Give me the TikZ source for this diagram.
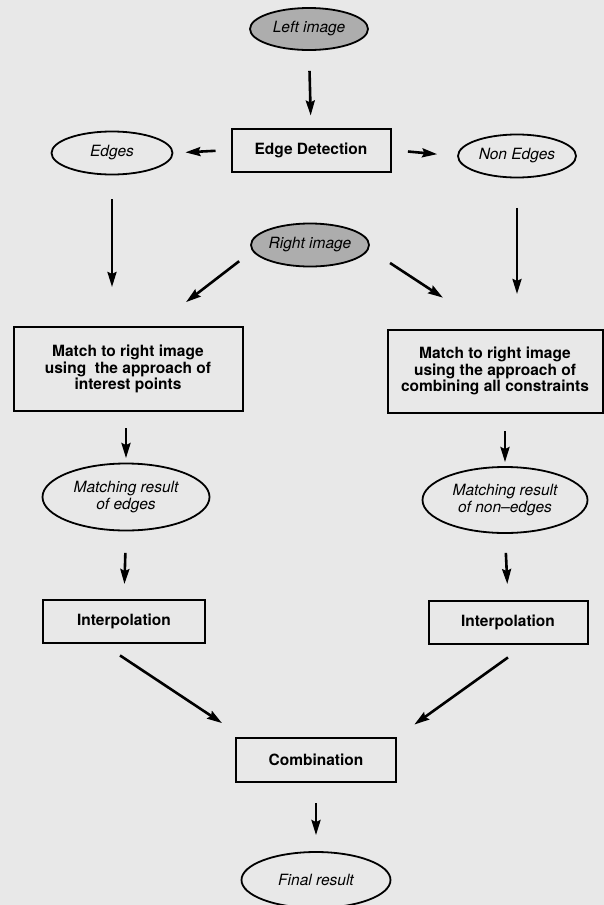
\documentclass[tikz,border=0pt]{standalone}
\usepackage{fontspec}
\setmainfont{TeX Gyre Heros}
\usepackage{xcolor}
\usepackage{tikz}
\usetikzlibrary{positioning,shapes.geometric,arrows.meta}
\definecolor{paperBG}{HTML}{E8E8E8}
\definecolor{imageFill}{HTML}{ADADAD}

\begin{document}
\begin{tikzpicture}[x=1pt, y=-1pt,
  stage/.style={draw, rectangle, line width=2pt, inner sep=0pt, align=center,
    font=\fontsize{15.5}{16.7}\selectfont\bfseries},
  result/.style={draw, ellipse, line width=1.8pt, inner sep=0pt, align=center,
    font=\fontsize{15.5}{16.7}\selectfont\itshape},
  source/.style={result, fill=imageFill},
  flow/.style={line width=2.6pt, -{Stealth[length=15pt,width=9pt,inset=2pt]}},
]
  \path[use as bounding box, fill=paperBG] (0,0) rectangle (604,905);

  \node[source, minimum width=118pt, minimum height=42pt] (lft) at (309,29) {Left image};
  \node[stage, minimum width=159pt, minimum height=43pt] (edet) at (311,150) {Edge Detection};
  \node[result, minimum width=121pt, minimum height=43pt] (edges) at (112,153) {Edges};
  \node[result, minimum width=118pt, minimum height=43pt] (nonedges) at (517,156) {Non Edges};
  \node[source, minimum width=118pt, minimum height=43pt] (rgt) at (310,245) {Right image};

  \node[stage, minimum width=229pt, minimum height=84pt] (matchL) at (128,369)
    {Match to right image\\using\ \ the approach of\\interest points};
  \node[stage, minimum width=215pt, minimum height=83pt] (matchR) at (495,371)
    {Match to right image\\using the approach of\\combining all constraints};

  \node[result, minimum width=167pt, minimum height=67pt] (resL) at (126,497) {Matching result\\of edges};
  \node[result, minimum width=165pt, minimum height=66pt] (resR) at (505,500) {Matching result\\of non--edges};

  \node[stage, minimum width=162pt, minimum height=43pt] (interpL) at (124,621) {Interpolation};
  \node[stage, minimum width=159pt, minimum height=43pt] (interpR) at (508,622) {Interpolation};
  \node[stage, minimum width=160pt, minimum height=44pt] (comb) at (316,760) {Combination};
  \node[result, minimum width=149pt, minimum height=56pt] (final) at (316,880) {Final result};

  \draw[flow, shorten <=20pt, shorten >=12pt] (lft.south) -- (edet.north);
  \draw[flow, shorten <=15pt, shorten >=12pt] (edet.west) -- (edges.east);
  \draw[flow, shorten <=16.5pt, shorten >=20pt] (edet.east) -- (nonedges.west);
  \draw[flow, shorten <=24pt, shorten >=39pt] (edges.south) -- (edges.south |- matchL.north);
  \draw[flow, shorten <=29.5pt, shorten >=34.5pt] (nonedges.south) -- (nonedges.south |- matchR.north);
  \draw[flow, shorten <=16.6pt, shorten >=39.2pt] (rgt.186) -- ([xshift=27pt]matchL.north);
  \draw[flow, shorten <=25.3pt, shorten >=56.3pt] (rgt.356) -- ([xshift=-5pt]matchR.north);
  \draw[flow, shorten <=16pt, shorten >=4.5pt] (resL.north |- matchL.south) -- (resL.north);
  \draw[flow, shorten <=17.5pt, shorten >=4pt] (resR.north |- matchR.south) -- (resR.north);
  \draw[flow, shorten <=21.5pt, shorten >=14.5pt] (resL.south) -- (interpL.north);
  \draw[flow, shorten <=19pt, shorten >=15.5pt] (resR.south) -- (interpR.north);
  \draw[flow, shorten <=21.6pt, shorten >=25.2pt] ([xshift=-22pt]interpL.south) -- ([xshift=8pt]comb.north west);
  \draw[flow, shorten <=22.2pt, shorten >=21.4pt] ([xshift=18pt]interpR.south) -- (comb.north east);
  \draw[flow, shorten <=20pt, shorten >=16pt] (comb.south) -- (final.north);
\end{tikzpicture}
\end{document}
